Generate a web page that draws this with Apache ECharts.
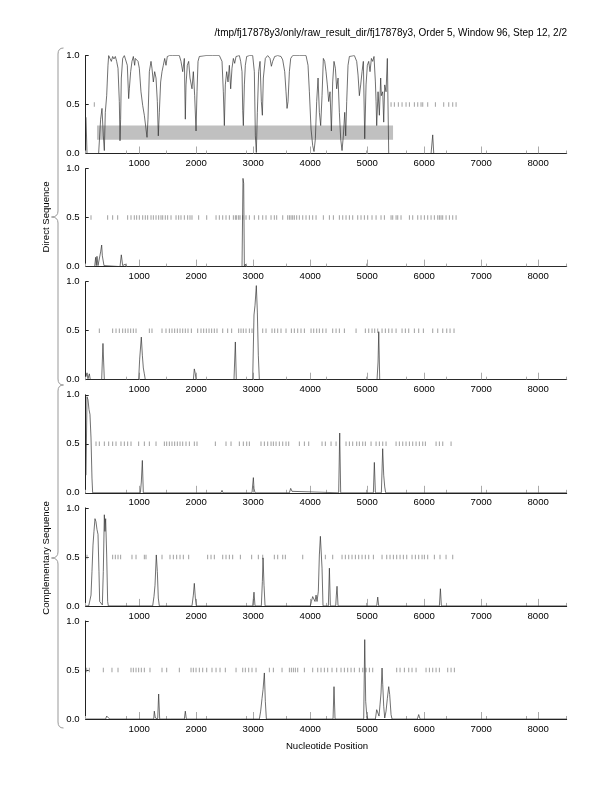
<!DOCTYPE html>
<html>
<head>
<meta charset="utf-8">
<script src="https://cdn.jsdelivr.net/npm/echarts@6/dist/echarts.min.js"></script>
<style>
html,body{margin:0;padding:0;background:#fff;}
#chart{width:612px;height:792px;}
</style>
</head>
<body>
<div id="chart"></div>
<script>
// ---------- DATA ----------
const xTicks = [1000, 2000, 3000, 4000, 5000, 6000, 7000, 8000];
const yTicks = [0, 0.5, 1];
const seqStart = 60, seqEnd = 8500;
const titleText = "/tmp/fj17878y3/only/raw_result_dir/fj17878y3, Order 5, Window 96, Step 12, 2/2";
const strandLabels = ["Direct Sequence", "Complementary Sequence"];
const xAxisTitle = "Nucleotide Position";

// coding potential per frame: [position, probability]
const frame1 = [[65,0.37],[83,0],[287,0],[322,0.35],[346,0.46],[369,0.18],[387,0.03],[404,0.42],[428,0.59],[451,0.90],[463,1.0],[486,0.97],[510,0.94],[533,0.99],[556,0.965],[580,0.99],[603,0.94],[627,0.87],[650,0.53],[662,0.13],[673,0.35],[685,0.77],[709,0.97],[738,1.0],[767,0.99],[790,0.90],[814,0.56],[826,0.66],[849,0.835],[872,0.94],[896,0.99],[919,0.90],[931,0.97],[954,0.99],[978,0.94],[1001,0.87],[1030,0.63],[1060,0.49],[1089,0.39],[1118,0.25],[1136,0.165],[1153,0.35],[1177,0.835],[1206,0.94],[1223,0.87],[1247,0.73],[1270,0.835],[1294,0.77],[1317,0.53],[1334,0.18],[1352,0.42],[1375,0.73],[1399,0.835],[1422,0.90],[1446,0.97],[1469,0.90],[1492,0.99],[1528,1.0],[1586,1.0],[1645,1.0],[1703,1.0],[1732,0.94],[1762,0.835],[1791,0.97],[1808,0.35],[1820,0.70],[1843,0.90],[1867,0.94],[1890,0.77],[1925,0.66],[1949,0.835],[1972,0.59],[1996,0.23],[2013,0.63],[2031,0.94],[2054,0.99],[2083,1.0],[2171,1.0],[2288,1.0],[2405,1.0],[2452,0.94],[2475,0.63],[2493,0.285],[2510,0.70],[2534,0.835],[2557,0.73],[2581,0.90],[2604,0.66],[2627,0.87],[2651,0.97],[2674,0.92],[2698,0.99],[2727,0.97],[2756,1.0],[2779,0.94],[2803,0.835],[2815,0.44],[2826,0.285],[2844,0.70],[2861,0.90],[2885,0.99],[2932,1.0],[2990,1.0],[3019,0.835],[3037,0.18],[3054,0.01],[3072,0.42],[3095,0.835],[3119,0.94],[3142,0.53],[3160,0.39],[3177,0.77],[3212,0.97],[3253,1.0],[3294,0.97],[3318,0.89],[3341,0.94],[3376,0.99],[3429,1.0],[3487,0.99],[3517,0.955],[3552,0.835],[3575,0.63],[3593,0.46],[3610,0.53],[3634,0.835],[3657,0.97],[3692,1.0],[3809,1.0],[3926,1.0],[3961,0.90],[3985,0.63],[4014,0.25],[4043,0.08],[4066,0.02],[4090,0.15],[4113,0.53],[4137,0.77],[4160,0.42],[4183,0.285],[4207,0.59],[4230,0.97],[4254,0.94],[4277,0.835],[4300,0.70],[4324,0.53],[4347,0.63],[4371,0.23],[4394,0.73],[4417,0.94],[4441,0.87],[4464,0.66],[4488,0.77],[4511,0.42],[4534,0.15],[4558,0.03],[4581,0.18],[4605,0.42],[4622,0.18],[4640,0.53],[4663,0.90],[4687,0.99],[4716,1.0],[4774,1.0],[4815,0.94],[4839,0.80],[4862,0.59],[4885,0.70],[4909,0.835],[4932,0.94],[4956,0.15],[4979,0.70],[5002,0.90],[5026,0.94],[5049,0.835],[5073,0.97],[5096,0.94],[5119,0.99],[5143,0.73],[5155,0.53],[5166,0.285],[5190,0.63],[5213,0.39],[5236,0.77],[5248,0.59],[5272,0.63],[5289,0.32],[5307,0.70],[5330,0.63],[5353,0.97],[5371,0.99],[5377,0],[6120,0],[6149,0.19],[6167,0],[6277,0],[6301,0.02],[6324,0],[8500,0]];
const frame2 = [[65,0],[217,0],[235,0.095],[246,0.01],[258,0.105],[276,0.01],[299,0],[322,0.15],[340,0.22],[352,0.11],[363,0.095],[381,0.01],[393,0],[662,0],[685,0.12],[709,0.01],[732,0],[755,0.025],[773,0],[2803,0],[2820,0.90],[2832,0.85],[2844,0],[2861,0.025],[2879,0],[4248,0],[4265,0.015],[4289,0],[5131,0],[5149,0.01],[5166,0],[8500,0]];
const frame3 = [[65,0.03],[83,0.07],[100,0.01],[124,0.06],[141,0],[340,0],[363,0.37],[375,0.18],[387,0],[989,0],[1007,0.21],[1036,0.435],[1054,0.25],[1071,0.12],[1089,0.06],[1106,0],[1949,0],[1966,0.11],[1984,0.06],[1996,0],[2662,0],[2686,0.385],[2703,0],[2990,0],[3013,0.66],[3031,0.76],[3054,0.96],[3072,0.69],[3089,0.25],[3107,0],[4341,0],[4359,0.01],[4376,0],[4862,0],[4880,0.015],[4897,0],[5172,0],[5190,0.18],[5202,0.49],[5219,0],[8500,0]];
const frame4 = [[65,0.18],[83,0.98],[100,0.95],[118,0.85],[135,0.80],[153,0.56],[170,0.15],[182,0],[1019,0],[1036,0.11],[1054,0.33],[1071,0],[2434,0],[2452,0.025],[2469,0],[2978,0],[3002,0.155],[3013,0.045],[3031,0],[3634,0],[3657,0.045],[3680,0.015],[3715,0],[4499,0],[4517,0.61],[4534,0],[5108,0],[5125,0.31],[5143,0],[5248,0],[5271,0.45],[5289,0.18],[5307,0.06],[5324,0],[8500,0]];
const frame5 = [[65,0],[112,0],[135,0.06],[153,0.11],[170,0.35],[188,0.62],[205,0.76],[223,0.89],[240,0.86],[258,0.78],[276,0.73],[293,0.35],[305,0.045],[328,0.06],[352,0.01],[369,0.35],[387,0.93],[398,0.76],[410,0.89],[428,0.52],[445,0.045],[457,0],[1235,0],[1258,0.095],[1276,0.21],[1299,0.52],[1317,0.35],[1334,0.08],[1352,0],[1440,0],[1457,0.015],[1475,0],[1925,0],[1949,0.11],[1966,0.23],[1984,0.08],[2001,0],[2867,0],[2873,0.015],[2890,0],[2990,0],[3013,0.14],[3031,0],[3142,0],[3160,0.25],[3172,0.49],[3189,0.21],[3207,0],[3610,0],[3634,0.015],[3657,0],[4002,0],[4020,0.045],[4043,0.095],[4066,0.11],[4084,0.045],[4102,0.11],[4119,0.045],[4142,0.15],[4160,0.52],[4178,0.71],[4195,0.69],[4207,0.385],[4224,0],[4318,0],[4336,0.385],[4353,0],[4447,0],[4458,0.11],[4470,0.20],[4488,0],[5166,0],[5184,0.09],[5201,0],[6266,0],[6284,0.175],[6301,0],[8500,0]];
const frame6 = [[65,0],[410,0],[428,0.03],[445,0.01],[463,0.02],[480,0],[1253,0],[1264,0.08],[1282,0.01],[1323,0],[1340,0.255],[1358,0],[1545,0],[1557,0.01],[1575,0],[1791,0],[1808,0.08],[1826,0],[2780,0],[2797,0.01],[2815,0],[3107,0],[3130,0.08],[3154,0.21],[3172,0.30],[3195,0.47],[3212,0.18],[3230,0],[3570,0],[3580,0.01],[3595,0],[4400,0],[4417,0.33],[4435,0],[4938,0],[4956,0.81],[4973,0.18],[4991,0.045],[5008,0],[5143,0],[5166,0.095],[5190,0.11],[5207,0.03],[5225,0.15],[5242,0.265],[5260,0.52],[5272,0.35],[5289,0.13],[5307,0.01],[5330,0.08],[5353,0.21],[5377,0.33],[5394,0.25],[5418,0.045],[5435,0],[5680,0],[5693,0.015],[5710,0],[5880,0],[5903,0.045],[5927,0],[6320,0],[6336,0.01],[6350,0],[8500,0]];

// stop codon positions per frame
const stops1 = [211,5418,5476,5546,5611,5681,5740,5827,5886,5944,5974,6061,6196,6342,6430,6500,6559];
const stops2 = [153,445,533,621,796,855,913,954,1001,1060,1106,1147,1206,1247,1294,1340,1381,1411,1457,1498,1557,1645,1691,1732,1791,1849,1890,1925,2042,2183,2347,2405,2464,2522,2581,2651,2686,2709,2744,2768,2815,2873,2932,3019,3095,3166,3224,3312,3370,3411,3517,3604,3634,3663,3692,3721,3762,3809,3868,3926,3985,4043,4102,4230,4336,4406,4511,4570,4628,4687,4745,4833,4891,4950,5008,5084,5155,5242,5301,5418,5447,5506,5535,5593,5740,5798,5886,5944,6003,6061,6120,6178,6237,6266,6295,6324,6383,6442,6500,6559];
const stops3 = [299,533,592,650,709,755,802,849,896,943,1177,1223,1399,1469,1528,1574,1621,1668,1715,1762,1808,1855,1914,2025,2083,2130,2177,2224,2270,2317,2364,2464,2551,2621,2744,2785,2826,2873,2932,2978,3166,3224,3329,3376,3429,3487,3575,3669,3721,3780,3838,3897,4014,4061,4113,4160,4219,4277,4394,4453,4511,4599,4804,4967,5026,5084,5131,5184,5260,5318,5377,5435,5506,5611,5669,5728,5827,5903,5985,6149,6237,6325,6395,6453,6523];
const stops4 = [241,299,387,463,533,592,679,738,796,855,989,1089,1177,1294,1440,1481,1528,1574,1621,1668,1715,1762,1820,1879,1966,2013,2335,2522,2610,2756,2826,2885,2932,3136,3195,3253,3312,3353,3400,3458,3517,3575,3622,3809,3897,3973,4207,4265,4365,4453,4628,4687,4745,4815,4862,4921,4967,5067,5155,5213,5272,5330,5506,5564,5623,5681,5740,5798,5857,5915,5974,6020,6208,6266,6325,6471];
const stops5 = [83,533,580,627,673,872,943,1089,1118,1399,1539,1598,1656,1715,1773,1867,2200,2259,2317,2464,2522,2581,2639,2774,2972,3089,3166,3370,3429,3517,3563,3868,4265,4394,4558,4616,4675,4733,4792,4850,4909,4967,5026,5108,5260,5342,5400,5459,5517,5576,5634,5693,5786,5845,5903,5962,6003,6061,6178,6277,6383,6500];
const stops6 = [77,124,369,521,627,855,896,943,989,1036,1089,1188,1399,1481,1703,1908,1949,1996,2054,2113,2183,2276,2347,2417,2510,2698,2815,2861,2920,2978,3049,3283,3353,3505,3634,3669,3704,3739,3780,3897,4043,4131,4189,4248,4306,4382,4464,4540,4599,4657,4716,4774,4862,4921,4979,5038,5096,5517,5576,5652,5728,5786,5857,6032,6091,6149,6208,6266,6412,6471,6529];

// open reading frame box in frame 1: [start, end, low, high]
const orfBoxes = [[258, 5453, 0.14, 0.285]];

const frames = [frame1, frame2, frame3, frame4, frame5, frame6];
const stops = [stops1, stops2, stops3, stops4, stops5, stops6];

// ---------- LAYOUT ----------
const FONT = "Liberation Sans, Arial, Helvetica, sans-serif";
const gridLeft = 85.7, gridWidth = 481;
const panelTops = [55.5, 168.6, 281.7, 394.8, 507.9, 621.0];
const panelH = 98;

const chart = echarts.init(document.getElementById('chart'), null, {renderer: 'canvas'});

const grids = [], xAxes = [], yAxes = [], series = [];
panelTops.forEach((top, i) => {
  grids.push({left: gridLeft, top: top, width: gridWidth, height: panelH, containLabel: false});
  xAxes.push({
    gridIndex: i, type: 'value', min: seqStart, max: seqEnd,
    axisLine: {show: true, lineStyle: {color: '#222', width: 1}},
    axisTick: {show: true, inside: true, length: 7, customValues: xTicks, lineStyle: {color: '#aaa', width: 1}},
    axisLabel: {show: true, customValues: xTicks, fontFamily: FONT, fontSize: 9.6, color: '#000', margin: 5,
      formatter: v => String(v)},
    splitLine: {show: false}
  });
  yAxes.push({
    gridIndex: i, type: 'value', min: 0, max: 1, interval: 0.5,
    axisLine: {show: true, lineStyle: {color: '#222', width: 1}},
    axisTick: {show: true, inside: true, length: 3, lineStyle: {color: '#222', width: 1}},
    axisLabel: {show: true, fontFamily: FONT, fontSize: 9.6, color: '#000', margin: 6,
      formatter: v => v.toFixed(1)},
    splitLine: {show: false}
  });
});
// minor ticks dividing each axis in 12 parts
panelTops.forEach((top, i) => {
  xAxes.push({
    gridIndex: i, type: 'value', min: 0, max: 12, interval: 1, position: 'bottom',
    axisLine: {show: false},
    axisTick: {show: true, inside: true, length: 3, lineStyle: {color: '#aaa', width: 1}},
    axisLabel: {show: false}, splitLine: {show: false}
  });
});

// ORF box (frame 1)
series.push({
  type: 'custom', xAxisIndex: 0, yAxisIndex: 0, z: 1, silent: true,
  data: orfBoxes,
  renderItem: (params, api) => {
    const p1 = api.coord([api.value(0), api.value(3)]);
    const p2 = api.coord([api.value(1), api.value(2)]);
    return {type: 'rect', shape: {x: p1[0], y: p1[1], width: p2[0] - p1[0], height: p2[1] - p1[1]},
      style: {fill: '#c0c0c0'}};
  },
  encode: {x: [0, 1], y: [2, 3]}
});

frames.forEach((fd, i) => {
  series.push({
    type: 'scatter', xAxisIndex: i, yAxisIndex: i, z: 2, silent: true,
    symbol: 'rect', symbolSize: [1, 4.5],
    itemStyle: {color: '#888'},
    data: stops[i].map(s => [s, 0.5])
  });
  series.push({
    type: 'line', xAxisIndex: i, yAxisIndex: i, z: 3, silent: true,
    showSymbol: false, symbol: 'none',
    lineStyle: {color: '#333', width: 0.7},
    data: fd
  });
});

function braceElements(yT, yB, yM) {
  const xL = 58, xC = 63.5, xT = 51.5;
  const st = {stroke: '#999', lineWidth: 1, fill: null};
  return [
    {type: 'bezierCurve', shape: {x1: xC, y1: yT, cpx1: xL, cpy1: yT, x2: xL, y2: yT + 6}, style: st},
    {type: 'line', shape: {x1: xL, y1: yT + 6, x2: xL, y2: yM - 6}, style: st},
    {type: 'bezierCurve', shape: {x1: xL, y1: yM - 6, cpx1: xL, cpy1: yM, x2: xT, y2: yM}, style: st},
    {type: 'bezierCurve', shape: {x1: xT, y1: yM, cpx1: xL, cpy1: yM, x2: xL, y2: yM + 6}, style: st},
    {type: 'line', shape: {x1: xL, y1: yM + 6, x2: xL, y2: yB - 6}, style: st},
    {type: 'bezierCurve', shape: {x1: xL, y1: yB - 6, cpx1: xL, cpy1: yB, x2: xC, y2: yB}, style: st}
  ];
}

chart.setOption({
  animation: false,
  backgroundColor: '#fff',
  title: {text: titleText, right: 45, top: 28, padding: 0,
    textStyle: {fontFamily: FONT, fontSize: 10, fontWeight: 'normal', color: '#000'}},
  grid: grids, xAxis: xAxes, yAxis: yAxes, series: series,
  graphic: [].concat(
    braceElements(48, 385, 217),
    braceElements(385, 728, 558),
    [
      {type: 'text', x: 46, y: 217, rotation: Math.PI / 2,
        style: {text: strandLabels[0], fontFamily: FONT, fontSize: 9.6, fill: '#000', align: 'center', verticalAlign: 'middle'}},
      {type: 'text', x: 46, y: 558, rotation: Math.PI / 2,
        style: {text: strandLabels[1], fontFamily: FONT, fontSize: 9.6, fill: '#000', align: 'center', verticalAlign: 'middle'}},
      {type: 'text', x: 327, y: 746,
        style: {text: xAxisTitle, fontFamily: FONT, fontSize: 9.6, fill: '#000', align: 'center', verticalAlign: 'middle'}}
    ]
  )
});
</script>
</body>
</html>
